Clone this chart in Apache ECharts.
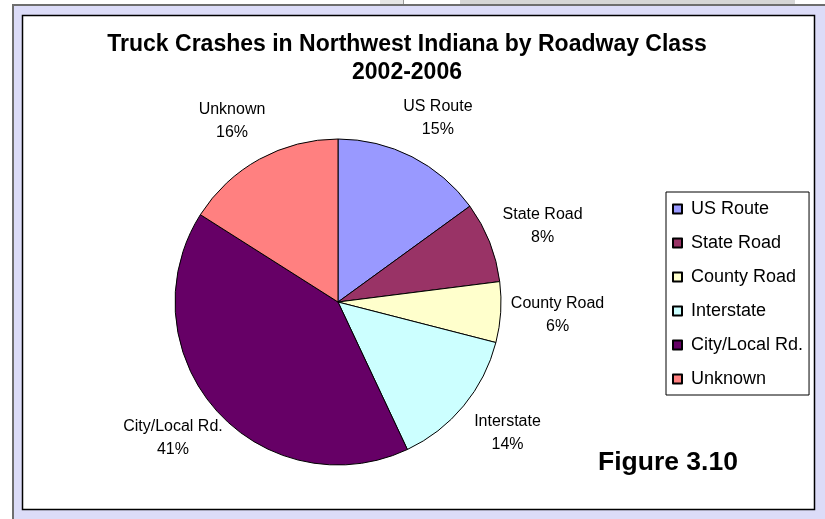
<!DOCTYPE html>
<html>
<head>
<meta charset="utf-8">
<title>Truck Crashes in Northwest Indiana by Roadway Class</title>
<script src="https://cdn.jsdelivr.net/npm/echarts@6/dist/echarts.min.js"></script>
<style>
  html, body { margin: 0; padding: 0; background: #fff; }
  #chart { width: 825px; height: 519px; }
</style>
</head>
<body>
<div id="chart"></div>
<script>
  // data (percent of truck crashes, 2002-2006)
  const roadClasses = ['US Route', 'State Road', 'County Road', 'Interstate', 'City/Local Rd.', 'Unknown']
  const crashShare = [15, 8, 6, 14, 41, 16]
  const sliceColors = ['#9999ff', '#993366', '#ffffcc', '#ccffff', '#660066', '#ff8080']

  const font = 'Liberation Sans, Arial, sans-serif'
  const pieCenter = [338, 302]
  // excel puts the labels on a slightly flattened ring round the pie
  const labelRx = 220
  const labelRy = 206

  const chart = echarts.init(document.getElementById('chart'), null, { renderer: 'canvas' })

  chart.setOption({
    animation: false,
    color: sliceColors,
    title: [{
      text: 'Truck Crashes in Northwest Indiana by Roadway Class\n2002-2006',
      left: 407,
      top: 31,
      padding: 0,
      textAlign: 'center',
      textStyle: { fontFamily: font, fontSize: 23, fontWeight: 'bold', lineHeight: 28, color: '#000' }
    }, {
      text: 'Figure 3.10',
      left: 598,
      top: 449,
      padding: 0,
      textStyle: { fontFamily: font, fontSize: 26.5, fontWeight: 'bold', color: '#000' }
    }],
    // page frame around the chart (word document look)
    graphic: [
      { type: 'rect', z: -10, silent: true, shape: { x: 12, y: 4, width: 813, height: 515 }, style: { fill: '#dcdcf8' } },
      { type: 'rect', z: -9, silent: true, shape: { x: 12, y: 4, width: 2, height: 515 }, style: { fill: '#6e6e6e' } },
      { type: 'rect', z: -9, silent: true, shape: { x: 12, y: 4, width: 813, height: 2 }, style: { fill: '#6e6e6e' } },
      { type: 'rect', z: -9, silent: true, shape: { x: 380, y: 0, width: 23, height: 4 }, style: { fill: '#e6e6e6' } },
      { type: 'rect', z: -9, silent: true, shape: { x: 403, y: 0, width: 1, height: 4 }, style: { fill: '#999' } },
      { type: 'rect', z: -9, silent: true, shape: { x: 460, y: 0, width: 335, height: 4 }, style: { fill: '#d6d6d6' } },
      { type: 'rect', z: -8, silent: true, shape: { x: 22.5, y: 15.5, width: 792, height: 494 }, style: { fill: '#fff', stroke: '#000', lineWidth: 1.5 } }
    ],
    legend: {
      orient: 'vertical',
      left: 666,
      top: 192,
      padding: [8, 6, 7, 6],
      backgroundColor: '#fff',
      borderColor: '#000',
      borderWidth: 1,
      icon: 'rect',
      itemWidth: 9,
      itemHeight: 9,
      itemGap: 16,
      selectedMode: false,
      data: roadClasses,
      textStyle: { fontFamily: font, fontSize: 18, color: '#000', padding: [0, 0, 0, 4] }
    },
    series: [{
      type: 'pie',
      center: pieCenter,
      radius: 163,
      startAngle: 90,
      clockwise: true,
      avoidLabelOverlap: false,
      itemStyle: { borderColor: '#000', borderWidth: 1 },
      emphasis: { disabled: true },
      label: {
        show: true,
        position: 'outside',
        fontFamily: font,
        fontSize: 16,
        lineHeight: 23,
        color: '#000',
        formatter: p => p.name + '\n' + Math.round(p.percent) + '%'
      },
      labelLine: { show: true, length: 20, length2: 0, lineStyle: { opacity: 0 } },
      labelLayout: params => {
        const pts = params.labelLinePoints
        if (!pts) return {}
        // direction of the slice's middle, taken from the guide line
        const dx = pts[1][0] - pts[0][0]
        const dy = pts[1][1] - pts[0][1]
        const len = Math.sqrt(dx * dx + dy * dy) || 1
        return {
          x: pieCenter[0] + dx / len * labelRx,
          y: pieCenter[1] + dy / len * labelRy,
          align: 'center',
          verticalAlign: 'middle'
        }
      },
      data: roadClasses.map((name, i) => ({ name, value: crashShare[i] }))
    }]
  })
</script>
</body>
</html>
